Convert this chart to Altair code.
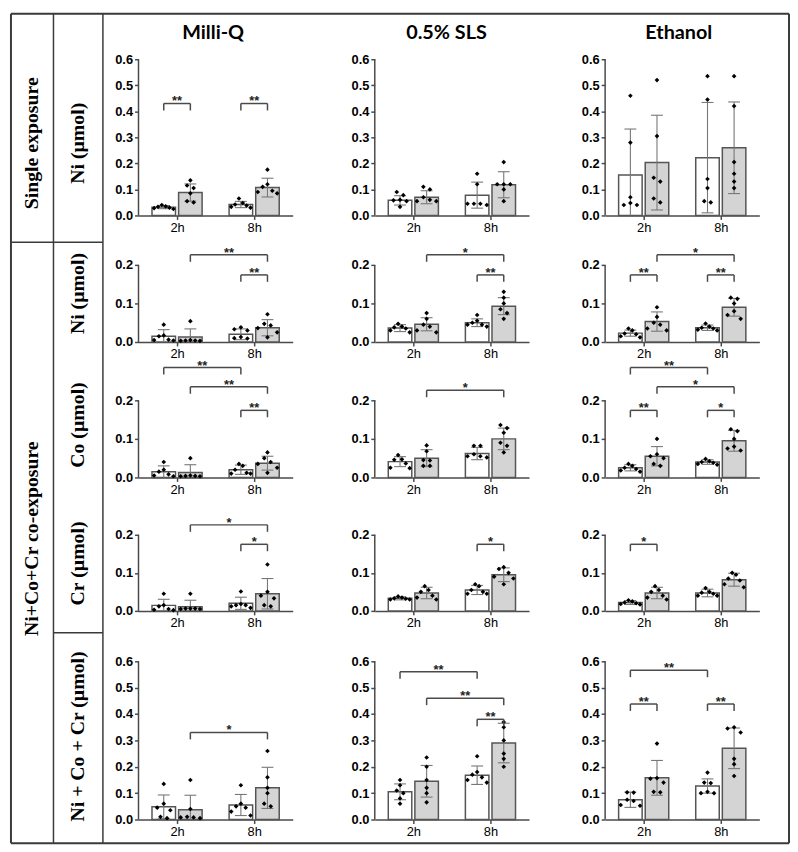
import altair as alt
import pandas as pd

MEDIA = ["Milli-Q", "0.5% SLS", "Ethanol"]
TIMES = ["2h", "8h"]
ROW_LABELS = ["Ni (µmol)", "Ni (µmol)", "Co (µmol)", "Cr (µmol)", "Ni + Co + Cr (µmol)"]
GROUP_LABELS = ["Single exposure", "Ni+Co+Cr co-exposure"]
TICKS_06 = [0.0, 0.1, 0.2, 0.3, 0.4, 0.5, 0.6]
TICKS_02 = [0.0, 0.1, 0.2]

# bar order in every panel: 2h open, 2h filled, 8h open, 8h filled
# ---------- Single exposure, Ni ----------
ni_single_mean = [[0.032, 0.088, 0.042, 0.107], [0.058, 0.070, 0.078, 0.118], [0.155, 0.203, 0.222, 0.260]]
ni_single_sd = [[0.006, 0.033, 0.012, 0.036], [0.018, 0.025, 0.050, 0.050], [0.177, 0.182, 0.212, 0.176]]
ni_single_pts = [
    [[0.040, 0.035, 0.033, 0.030, 0.028, 0.025], [0.135, 0.115, 0.105, 0.085, 0.055, 0.050],
     [0.065, 0.048, 0.042, 0.038, 0.033, 0.030], [0.176, 0.120, 0.110, 0.095, 0.090, 0.085]],
    [[0.090, 0.078, 0.060, 0.058, 0.055, 0.033], [0.110, 0.100, 0.070, 0.060, 0.055, 0.055],
     [0.160, 0.120, 0.045, 0.045, 0.045, 0.040], [0.205, 0.120, 0.120, 0.120, 0.100, 0.055]],
    [[0.460, 0.280, 0.070, 0.048, 0.040, 0.040], [0.520, 0.305, 0.145, 0.130, 0.065, 0.050],
     [0.535, 0.445, 0.140, 0.105, 0.055, 0.050], [0.535, 0.420, 0.205, 0.160, 0.130, 0.105]],
]
ni_single_sig = [[(0, 1, 0.43, "**"), (2, 3, 0.43, "**")], [], []]

# ---------- Co-exposure, Ni ----------
ni_mean = [[0.015, 0.013, 0.020, 0.037], [0.036, 0.046, 0.050, 0.093], [0.023, 0.053, 0.037, 0.090]]
ni_sd = [[0.017, 0.021, 0.014, 0.021], [0.009, 0.017, 0.010, 0.022], [0.008, 0.025, 0.007, 0.023]]
ni_pts = [
    [[0.045, 0.017, 0.015, 0.006, 0.005, 0.004], [0.054, 0.005, 0.004, 0.004, 0.003, 0.003],
     [0.038, 0.033, 0.030, 0.013, 0.010, 0.009], [0.072, 0.047, 0.043, 0.036, 0.025, 0.012]],
    [[0.047, 0.040, 0.038, 0.035, 0.030, 0.025], [0.075, 0.060, 0.045, 0.040, 0.030, 0.025],
     [0.070, 0.055, 0.050, 0.045, 0.045, 0.040], [0.130, 0.115, 0.100, 0.085, 0.075, 0.060]],
    [[0.035, 0.030, 0.022, 0.020, 0.015, 0.012], [0.090, 0.065, 0.050, 0.045, 0.035, 0.030],
     [0.048, 0.040, 0.037, 0.035, 0.032, 0.030], [0.115, 0.112, 0.100, 0.080, 0.070, 0.060]],
]
ni_sig = [[(1, 3, 0.226, "**"), (2, 3, 0.174, "**")],
          [(1, 3, 0.226, "*"), (2, 3, 0.174, "**")],
          [(0, 1, 0.174, "**"), (1, 3, 0.226, "*"), (2, 3, 0.174, "**")]]

# ---------- Co-exposure, Co ----------
co_mean = [[0.015, 0.013, 0.020, 0.037], [0.041, 0.050, 0.062, 0.100], [0.025, 0.055, 0.040, 0.095]]
co_sd = [[0.015, 0.020, 0.012, 0.018], [0.013, 0.022, 0.016, 0.028], [0.008, 0.025, 0.006, 0.027]]
co_pts = [
    [[0.040, 0.020, 0.015, 0.008, 0.005, 0.003], [0.050, 0.005, 0.004, 0.004, 0.003, 0.003],
     [0.035, 0.030, 0.020, 0.012, 0.010, 0.010], [0.065, 0.050, 0.040, 0.035, 0.025, 0.012]],
    [[0.058, 0.047, 0.046, 0.036, 0.025, 0.024], [0.083, 0.068, 0.045, 0.044, 0.030, 0.030],
     [0.082, 0.082, 0.060, 0.055, 0.055, 0.052], [0.136, 0.128, 0.116, 0.090, 0.082, 0.065]],
    [[0.035, 0.030, 0.025, 0.022, 0.018, 0.015], [0.100, 0.060, 0.055, 0.050, 0.035, 0.030],
     [0.048, 0.042, 0.040, 0.038, 0.035, 0.033], [0.125, 0.120, 0.100, 0.080, 0.075, 0.070]],
]
co_sig = [[(0, 2, 0.285, "**"), (1, 3, 0.235, "**"), (2, 3, 0.174, "**")],
          [(1, 3, 0.226, "*")],
          [(0, 2, 0.285, "**"), (1, 3, 0.235, "*"), (0, 1, 0.174, "**"), (2, 3, 0.174, "*")]]

# ---------- Co-exposure, Cr ----------
cr_mean = [[0.0145, 0.011, 0.020, 0.045], [0.033, 0.047, 0.055, 0.095], [0.022, 0.047, 0.047, 0.082]]
cr_sd = [[0.016, 0.017, 0.016, 0.040], [0.004, 0.015, 0.012, 0.018], [0.005, 0.015, 0.010, 0.017]]
cr_pts = [
    [[0.045, 0.015, 0.012, 0.005, 0.003, 0.002], [0.045, 0.006, 0.006, 0.006, 0.005, 0.005],
     [0.051, 0.018, 0.015, 0.015, 0.012, 0.008], [0.122, 0.050, 0.040, 0.033, 0.015, 0.012]],
    [[0.038, 0.035, 0.033, 0.032, 0.030, 0.030], [0.065, 0.055, 0.050, 0.040, 0.035, 0.030],
     [0.070, 0.065, 0.055, 0.050, 0.045, 0.045], [0.115, 0.110, 0.100, 0.090, 0.085, 0.070]],
    [[0.028, 0.025, 0.022, 0.020, 0.018, 0.017], [0.065, 0.055, 0.050, 0.040, 0.035, 0.030],
     [0.060, 0.050, 0.048, 0.045, 0.040, 0.040], [0.100, 0.095, 0.085, 0.080, 0.070, 0.062]],
]
cr_sig = [[(1, 3, 0.226, "*"), (2, 3, 0.175, "*")],
          [(2, 3, 0.175, "*")],
          [(0, 1, 0.175, "*")]]

# ---------- Co-exposure, Ni + Co + Cr ----------
tot_mean = [[0.048, 0.037, 0.055, 0.120], [0.105, 0.145, 0.168, 0.290], [0.075, 0.158, 0.127, 0.270]]
tot_sd = [[0.045, 0.055, 0.040, 0.078], [0.030, 0.060, 0.035, 0.075], [0.029, 0.066, 0.027, 0.077]]
tot_pts = [
    [[0.135, 0.060, 0.045, 0.035, 0.010, 0.005], [0.150, 0.040, 0.010, 0.008, 0.008, 0.005],
     [0.130, 0.060, 0.050, 0.045, 0.030, 0.015], [0.260, 0.160, 0.120, 0.100, 0.060, 0.050]],
    [[0.150, 0.130, 0.110, 0.100, 0.080, 0.060], [0.235, 0.200, 0.150, 0.120, 0.100, 0.065],
     [0.240, 0.180, 0.170, 0.160, 0.150, 0.140], [0.370, 0.350, 0.300, 0.250, 0.230, 0.200]],
    [[0.103, 0.102, 0.075, 0.070, 0.055, 0.052], [0.288, 0.157, 0.155, 0.140, 0.105, 0.103],
     [0.178, 0.140, 0.138, 0.105, 0.100, 0.100], [0.350, 0.345, 0.330, 0.230, 0.210, 0.165]],
]
tot_sig = [[(1, 3, 0.33, "*")],
           [(0, 2, 0.56, "**"), (1, 3, 0.46, "**"), (2, 3, 0.38, "**")],
           [(0, 2, 0.566, "**"), (0, 1, 0.438, "**"), (2, 3, 0.438, "**")]]

# ---------------- layout / style (not data) ----------------
ROWS = [
    (ni_single_mean, ni_single_sd, ni_single_pts, ni_single_sig, TICKS_06, 158, 263.3),
    (ni_mean, ni_sd, ni_pts, ni_sig, TICKS_02, 106, 390.0),
    (co_mean, co_sd, co_pts, co_sig, TICKS_02, 115, 390.0),
    (cr_mean, cr_sd, cr_pts, cr_sig, TICKS_02, 113, 385.0),
    (tot_mean, tot_sd, tot_pts, tot_sig, TICKS_06, 189, 266.7),
]
COL_W = [159, 153, 157]
RANGE_W = 156
CENTERS = [1 - 0.345, 1 + 0.345, 3 - 0.345, 3 + 0.345]
HALF = 0.305
CAP = 0.154
FILLS = ["white", "#d4d4d4", "white", "#d4d4d4"]
LINE = "#4a4a4a"
ONE = pd.DataFrame({"a": [0]})


def swarm(vals, ppu):
    """Spread points of similar height sideways (centre first, then alternating left/right)."""
    order = sorted(range(len(vals)), key=lambda i: -vals[i])
    clusters = []
    for i in order:
        if clusters and (vals[clusters[-1][-1]] - vals[i]) * ppu < 4.5:
            clusters[-1].append(i)
        else:
            clusters.append([i])
    offs = [0.0] * len(vals)
    for cl in clusters:
        k = len(cl)
        step = 0.17 if k <= 3 else 0.5 / (k - 1)
        slots = sorted([j - (k - 1) / 2 for j in range(k)], key=lambda s: (abs(s), s))
        for s, i in zip(slots, cl):
            offs[i] = s * step
    return offs


def panel(mean, sd, pts, sig, ticks, height, ppu, width, title):
    ymax = height / ppu
    xs = alt.Scale(domain=[0, 4], range=[0, RANGE_W], nice=False, zero=False)
    ys = alt.Scale(domain=[0, ymax], nice=False, zero=True)
    xax = alt.Axis(values=[1, 3], labelExpr="datum.value == 1 ? '%s' : '%s'" % (TIMES[0], TIMES[1]),
                   title=None, grid=False, domainColor=LINE, domainWidth=1.5, tickColor=LINE,
                   tickWidth=1.5, tickSize=4, labelFont="Liberation Sans", labelFontSize=13,
                   labelColor="black", labelPadding=2)
    yax = alt.Axis(values=ticks, format=".1f", title=None, grid=False, domain=False, tickColor=LINE,
                   tickWidth=1.5, tickSize=4, labelFont="Liberation Sans", labelFontSize=13,
                   labelFontWeight="bold", labelColor="black", labelPadding=2)

    def X(f):
        return alt.X(f + ":Q", scale=xs, axis=xax)

    def Y(f):
        return alt.Y(f + ":Q", scale=ys, axis=yax)

    bars = pd.DataFrame({
        "x1": [c - HALF for c in CENTERS], "x2": [c + HALF for c in CENTERS],
        "z": [0] * 4, "m": mean, "fill": FILLS,
        "c": CENTERS, "c1": [c - CAP for c in CENTERS], "c2": [c + CAP for c in CENTERS],
        "lo": [max(m - s, 0) for m, s in zip(mean, sd)], "hi": [m + s for m, s in zip(mean, sd)],
    })
    lows = bars[[m - s > 0 for m, s in zip(mean, sd)]]
    prow = []
    for b, vals in enumerate(pts):
        for v, o in zip(vals, swarm(vals, ppu)):
            prow.append({"px": CENTERS[b] + o, "py": v})
    pdf = pd.DataFrame(prow)
    axis_df = pd.DataFrame({"x": [0], "y0": [0], "y1": [ticks[-1]]})

    layers = [
        alt.Chart(bars).mark_rect(stroke="#555555", strokeWidth=1.5).encode(
            x=X("x1"), x2="x2", y=Y("z"), y2="m", fill=alt.Fill("fill:N", scale=None)),
        alt.Chart(axis_df).mark_rule(color=LINE, strokeWidth=1.5).encode(x=X("x"), y=Y("y0"), y2="y1"),
        alt.Chart(bars).mark_rule(color="#777777", strokeWidth=1.1).encode(x=X("c"), y=Y("lo"), y2="hi"),
        alt.Chart(bars).mark_rule(color="#777777", strokeWidth=1.1).encode(x=X("c1"), x2="c2", y=Y("hi")),
    ]
    if len(lows):
        layers.append(alt.Chart(lows).mark_rule(color="#777777", strokeWidth=1.1).encode(
            x=X("c1"), x2="c2", y=Y("lo")))
    layers.append(alt.Chart(pdf).mark_point(shape="diamond", filled=True, size=22, color="black",
                                            opacity=1).encode(x=X("px"), y=Y("py")))
    if sig:
        leg = 7.0 / ppu
        sdf = pd.DataFrame({
            "xa": [CENTERS[a] for a, b, y, t in sig], "xb": [CENTERS[b] for a, b, y, t in sig],
            "xm": [(CENTERS[a] + CENTERS[b]) / 2 for a, b, y, t in sig],
            "y": [y for a, b, y, t in sig], "yl": [y - leg for a, b, y, t in sig],
            "lab": [t for a, b, y, t in sig],
        })
        layers += [
            alt.Chart(sdf).mark_rule(color=LINE, strokeWidth=1.5).encode(x=X("xa"), x2="xb", y=Y("y")),
            alt.Chart(sdf).mark_rule(color=LINE, strokeWidth=1.5).encode(x=X("xa"), y=Y("y"), y2="yl"),
            alt.Chart(sdf).mark_rule(color=LINE, strokeWidth=1.5).encode(x=X("xb"), y=Y("y"), y2="yl"),
            alt.Chart(sdf).mark_text(font="Liberation Sans", fontSize=13, fontWeight="bold",
                                     color="#222222", baseline="alphabetic", dy=2).encode(
                x=X("xm"), y=Y("y"), text="lab:N"),
        ]
    ch = alt.layer(*layers).properties(width=width, height=height)
    if title:
        ch = ch.properties(title=alt.TitleParams(title, font="Lato", fontSize=20, fontWeight="bold",
                                                 color="black", offset=11, dx=-4, frame="group",
                                                 anchor="middle"))
    return ch


def hline(x1, x2, y, w=1.5):
    return alt.Chart(ONE).mark_rule(color="#3a3a3a", strokeWidth=w).encode(
        x=alt.value(x1), x2=alt.value(x2), y=alt.value(y))


def vline(x, y1, y2, w=1.5):
    return alt.Chart(ONE).mark_rule(color="#3a3a3a", strokeWidth=w).encode(
        x=alt.value(x), y=alt.value(y1), y2=alt.value(y2))


def vtext(t, x, y):
    return alt.Chart(ONE).mark_text(angle=270, font="Liberation Serif", fontWeight="bold", fontSize=20,
                                    color="black", align="center", baseline="middle").encode(
        x=alt.value(x), y=alt.value(y), text=alt.value(t))


TOP, BOT, RIGHT = -46, 793, 787
label_layers = [
    hline(0, RIGHT, TOP, 2), hline(0, RIGHT, BOT, 2), vline(0, TOP, BOT, 2), vline(RIGHT, TOP, BOT, 2),
    vline(43, TOP, BOT), vline(93, TOP, BOT), hline(0, 93, 185), hline(43, 93, 580),
    vtext(GROUP_LABELS[0], 21, 85), vtext(GROUP_LABELS[1], 21, 485),
    vtext(ROW_LABELS[0], 68, 85), vtext(ROW_LABELS[1], 68, 237), vtext(ROW_LABELS[2], 68, 370),
    vtext(ROW_LABELS[3], 68, 510), vtext(ROW_LABELS[4], 68, 685),
]

cells = []
for r, (mn, sd, pts, sig, ticks, h, ppu) in enumerate(ROWS):
    if r == 0:
        cells.append(alt.layer(*label_layers).properties(width=49, height=h))
    else:
        cells.append(alt.Chart(ONE).mark_point(opacity=0).encode(
            x=alt.value(0), y=alt.value(0)).properties(width=49, height=h))
    for c in range(3):
        cells.append(panel(mn[c], sd[c], pts[c], sig[c], ticks, h, ppu, COL_W[c],
                           MEDIA[c] if r == 0 else None))

chart = alt.concat(*cells, columns=4, spacing={"row": 22, "column": 80}, align="each",
                   bounds="flush").properties(padding=0, background="white").configure_view(stroke=None)

chart.save("out.html", embed_options={"renderer": "svg", "actions": False})
